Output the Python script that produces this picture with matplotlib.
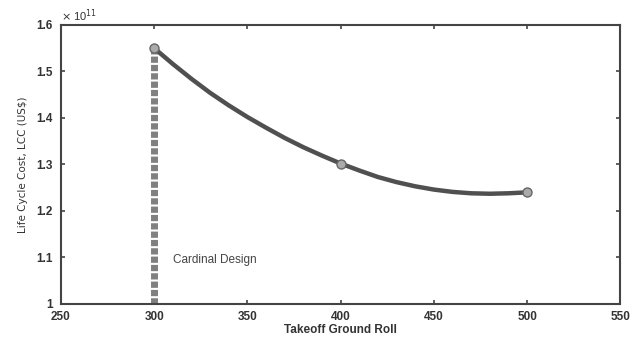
import numpy as np
import matplotlib
matplotlib.use('Agg')
import matplotlib.pyplot as plt

# takeoff ground roll of the three designs and the LCC at each
roll_pts = [300, 400, 500]
lcc_pts = [1.55e11, 1.302e11, 1.24e11]

# smooth curve (every 10 units of roll)
roll_curve = [300, 310, 320, 330, 340, 350, 360, 370, 380, 390, 400,
              410, 420, 430, 440, 450, 460, 470, 480, 490, 500]
lcc_curve = [1.550e11, 1.516e11, 1.484e11, 1.454e11, 1.427e11, 1.402e11,
             1.379e11, 1.357e11, 1.337e11, 1.319e11, 1.302e11, 1.287e11,
             1.273e11, 1.262e11, 1.253e11, 1.246e11, 1.241e11, 1.238e11,
             1.237e11, 1.238e11, 1.240e11]

design_roll = 300
scale = 1e11
x_ticks = [250, 300, 350, 400, 450, 500, 550]
y_ticks = [1.0, 1.1, 1.2, 1.3, 1.4, 1.5, 1.6]
y_tick_labels = ['1', '1.1', '1.2', '1.3', '1.4', '1.5', '1.6']

txt = '#333333'
plt.rcParams['font.family'] = ['Liberation Sans', 'DejaVu Sans']

fig = plt.figure(figsize=(6.32, 3.37), dpi=100)
ax = fig.add_axes([0.0965, 0.098, 0.885, 0.828])

lcc_c = np.array(lcc_curve) / scale
lcc_p = np.array(lcc_pts) / scale

# cardinal design marker line
ax.vlines(design_roll, y_ticks[0], lcc_p[0], colors='#808080',
          linestyles=(0, (0.9, 0.3)), linewidth=5, zorder=2)
ax.plot(roll_curve, lcc_c, color='#505050', linewidth=3.2,
        solid_capstyle='round', solid_joinstyle='round', zorder=3)
ax.plot(roll_pts, lcc_p, 'o', markersize=6.5, markerfacecolor='#aaaaaa',
        markeredgecolor='#666666', markeredgewidth=1, zorder=4)

ax.text(310, 1.095, 'Cardinal Design', fontsize=8.5, color='#444444',
        va='center', ha='left')

ax.set_xlim(x_ticks[0], x_ticks[-1])
ax.set_ylim(y_ticks[0], y_ticks[-1])
ax.set_xticks(x_ticks)
ax.set_yticks(y_ticks)
ax.set_yticklabels(y_tick_labels)
ax.tick_params(direction='in', length=3, labelsize=8.5, colors='#444444',
               labelcolor=txt, top=True, right=True, width=1.2)
ax.tick_params(axis='x', pad=5)
ax.tick_params(axis='y', pad=6)
for lab in ax.get_xticklabels() + ax.get_yticklabels():
    lab.set_fontweight('bold')
for sp in ax.spines.values():
    sp.set_color('#444444')
    sp.set_linewidth(1.5)

ax.set_xlabel('Takeoff Ground Roll', fontsize=8.5, fontweight='bold',
              color=txt, labelpad=1)
ax.set_ylabel('Life Cycle Cost, LCC (US\\$)', fontsize=7.5, color=txt,
              family=['Liberation Sans Narrow', 'DejaVu Sans'], labelpad=6)
ax.text(0.0, 1.005, r'$\times$ 10$^{11}$', transform=ax.transAxes,
        fontsize=8, color=txt, ha='left', va='bottom')

fig.savefig('out.png', dpi=100)
